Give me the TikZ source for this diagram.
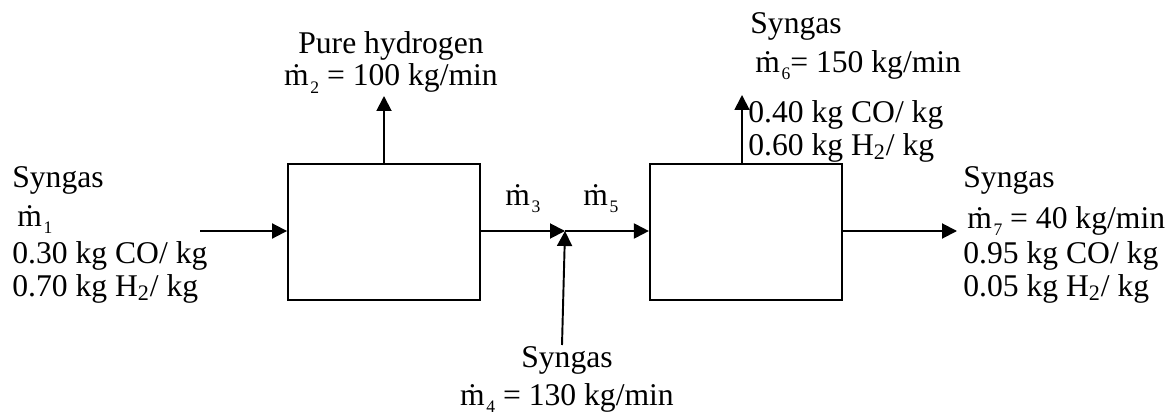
\documentclass[tikz,border=0pt]{standalone}
\usepackage{fontspec}
\setmainfont{Liberation Serif}
\usetikzlibrary{arrows.meta,positioning}

\newcommand{\mflow}[1]{\.{m}\kern0.05em\raisebox{-0.25em}{\fontsize{10}{10}\selectfont #1}}

\begin{document}
\begin{tikzpicture}[
    x=0.02cm, y=-0.02cm,
    unit/.style={draw,line width=1.1pt,minimum width=3.84cm,minimum height=2.72cm},
    lbl/.style={inner sep=0pt,font=\fontsize{18}{18.78}\selectfont},
    flow/.style={line width=1.1pt,->},
    >={Triangle[length=0.3cm,width=0.3cm]}]
  \useasboundingbox (0,0) rectangle (1168,415);
  \node[unit] (sep) at (384,232) {};
  \node[unit,right=3.36cm of sep] (react) {};
  \coordinate (feed) at (200,231);
  \coordinate (mix) at (565,231);
  \coordinate (side) at (562,345);
  \coordinate (h2out) at (384,96);
  \coordinate (purge) at (742,95);
  \coordinate (prod) at (957,231);
  \draw[flow] (feed) -- (feed -| sep.west);
  \draw[flow] (mix -| sep.east) -- (mix);
  \draw[flow] (mix) -- (mix -| react.west);
  \draw[flow] (side) -- (mix);
  \draw[flow] (sep.north) -- (h2out);
  \draw[flow] (purge |- react.north) -- (purge);
  \draw[flow] (prod -| react.east) -- (prod);
  % stream labels (base = last line)
  \node[lbl,align=left,anchor=base west] (feedtxt) at (12,296)
    {Syngas\\[0.12cm]\hspace*{0.1cm}\mflow{1}\\[0.08cm]0.30 kg CO/ kg\\0.70 kg H\textsubscript{2}/ kg};
  \node[lbl,align=center,anchor=base] (h2txt) at (391,86)
    {Pure hydrogen\\\mflow{2} = 100 kg/min};
  \node[lbl,anchor=base west] (m3txt) at (505,205) {\mflow{3}};
  \node[lbl,anchor=base west] (m5txt) at (583,205) {\mflow{5}};
  \node[lbl,align=center,anchor=base] (sidetxt) at (567,405)
    {Syngas\\[0.1cm]\mflow{4} = 130 kg/min};
  \node[lbl,align=left,anchor=base west] (purgetxt) at (748,155)
    {\hspace*{0.04cm}Syngas\\[0.12cm]\hspace*{0.14cm}\mflow{6}= 150 kg/min\\[0.34cm]0.40 kg CO/ kg\\0.60 kg H\textsubscript{2}/ kg};
  \node[lbl,align=left,anchor=base west] (prodtxt) at (963,296)
    {Syngas\\[0.16cm]\hspace*{0.08cm}\mflow{7} = 40 kg/min\\[0.04cm]0.95 kg CO/ kg\\0.05 kg H\textsubscript{2}/ kg};
\end{tikzpicture}
\end{document}
